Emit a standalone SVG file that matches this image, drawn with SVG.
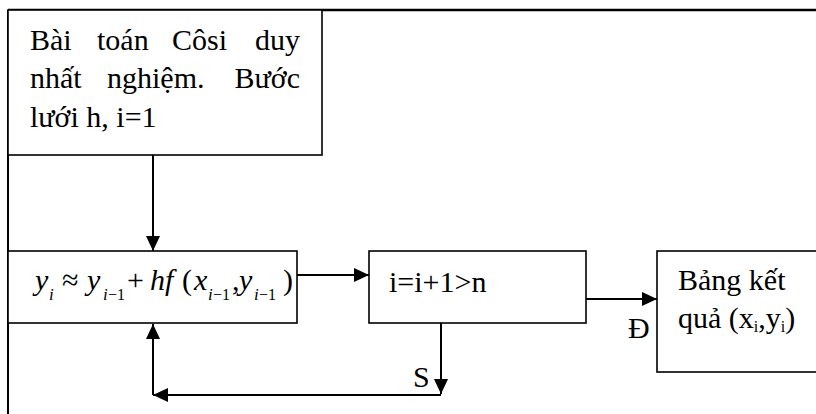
<svg xmlns="http://www.w3.org/2000/svg" width="816" height="414" viewBox="0 0 816 414">
<style>
.box{fill:#fff;stroke:#000;stroke-width:1.6}
.ln{fill:none;stroke:#000;stroke-width:2}
text{font-family:'Liberation Serif','Times New Roman',Tinos,'DejaVu Serif',serif;fill:#000}
.t{font-size:30px}
.m{font-size:30px;font-style:italic}
.mu{font-size:30px}
.s{font-size:16px}
.si{font-size:17px;font-style:italic}
</style>
<defs>
<marker id="ah" markerWidth="15" markerHeight="14" refX="15" refY="7" orient="auto" markerUnits="userSpaceOnUse">
<path d="M0,0 L15,7 L0,14 Z" fill="#000"/>
</marker>
</defs>
<rect x="0" y="0" width="816" height="414" fill="#fff"/>
<g id="frame">
<line x1="8" y1="10" x2="816" y2="10" stroke="#000" stroke-width="2.5"/>
<line x1="8" y1="10" x2="8" y2="414" stroke="#000" stroke-width="2"/>
</g>
<g id="connectors">
<line class="ln" x1="153" y1="155" x2="153" y2="251" marker-end="url(#ah)"/>
<line class="ln" x1="297" y1="275" x2="369" y2="275" marker-end="url(#ah)"/>
<line class="ln" x1="586" y1="299" x2="657" y2="299" marker-end="url(#ah)"/>
<line class="ln" x1="441" y1="323" x2="441" y2="394" marker-end="url(#ah)"/>
<line class="ln" x1="441" y1="395" x2="153" y2="395" marker-end="url(#ah)"/>
<line class="ln" x1="153" y1="395" x2="153" y2="324" marker-end="url(#ah)"/>
</g>
<g id="start">
<rect class="box" x="8" y="10" width="314" height="145"/>
<text class="t" x="30" y="50">Bài</text>
<text class="t" x="97" y="50">toán</text>
<text class="t" x="172" y="50">Côsi</text>
<text class="t" x="300" y="50" text-anchor="end">duy</text>
<text class="t" x="30" y="88">nhất</text>
<text class="t" x="107" y="88">nghiệm.</text>
<text class="t" x="300" y="88" text-anchor="end">Bước</text>
<text class="t" x="30" y="127">lưới h, i=1</text>
</g>
<g id="euler">
<rect class="box" x="8" y="251" width="289" height="72"/>
<text class="m" x="35" y="290">y</text>
<text class="si" x="49" y="300">i</text>
<text class="mu" x="62" y="290">≈</text>
<text class="m" x="87" y="290">y</text>
<text class="si" x="103" y="300">i</text><text class="s" x="108" y="300">−1</text>
<text class="mu" x="127" y="290">+</text>
<text class="m" x="150" y="290">hf</text>
<text class="mu" x="182" y="290">(</text>
<text class="m" x="194" y="290">x</text>
<text class="si" x="208" y="300">i</text><text class="s" x="213" y="300">−1</text>
<text class="mu" x="232" y="290">,</text>
<text class="m" x="239" y="290">y</text>
<text class="si" x="254" y="300">i</text><text class="s" x="259" y="300">−1</text>
<text class="mu" x="283" y="290">)</text>
</g>
<g id="check">
<rect class="box" x="369" y="251" width="217" height="72"/>
<text class="t" x="389" y="292">i=i+1&gt;n</text>
</g>
<g id="result">
<rect class="box" x="657" y="251" width="170" height="121"/>
<text class="t" x="678" y="290">Bảng kết</text>
<text class="t" x="678" y="328">quả (x<tspan class="s" dy="4">i</tspan><tspan dy="-4">,y</tspan><tspan class="s" dy="4">i</tspan><tspan dy="-4">)</tspan></text>
</g>
<g id="labels">
<text class="t" x="628" y="338" font-size="26">Đ</text>
<text class="t" x="413" y="387" font-size="26">S</text>
</g>
</svg>
